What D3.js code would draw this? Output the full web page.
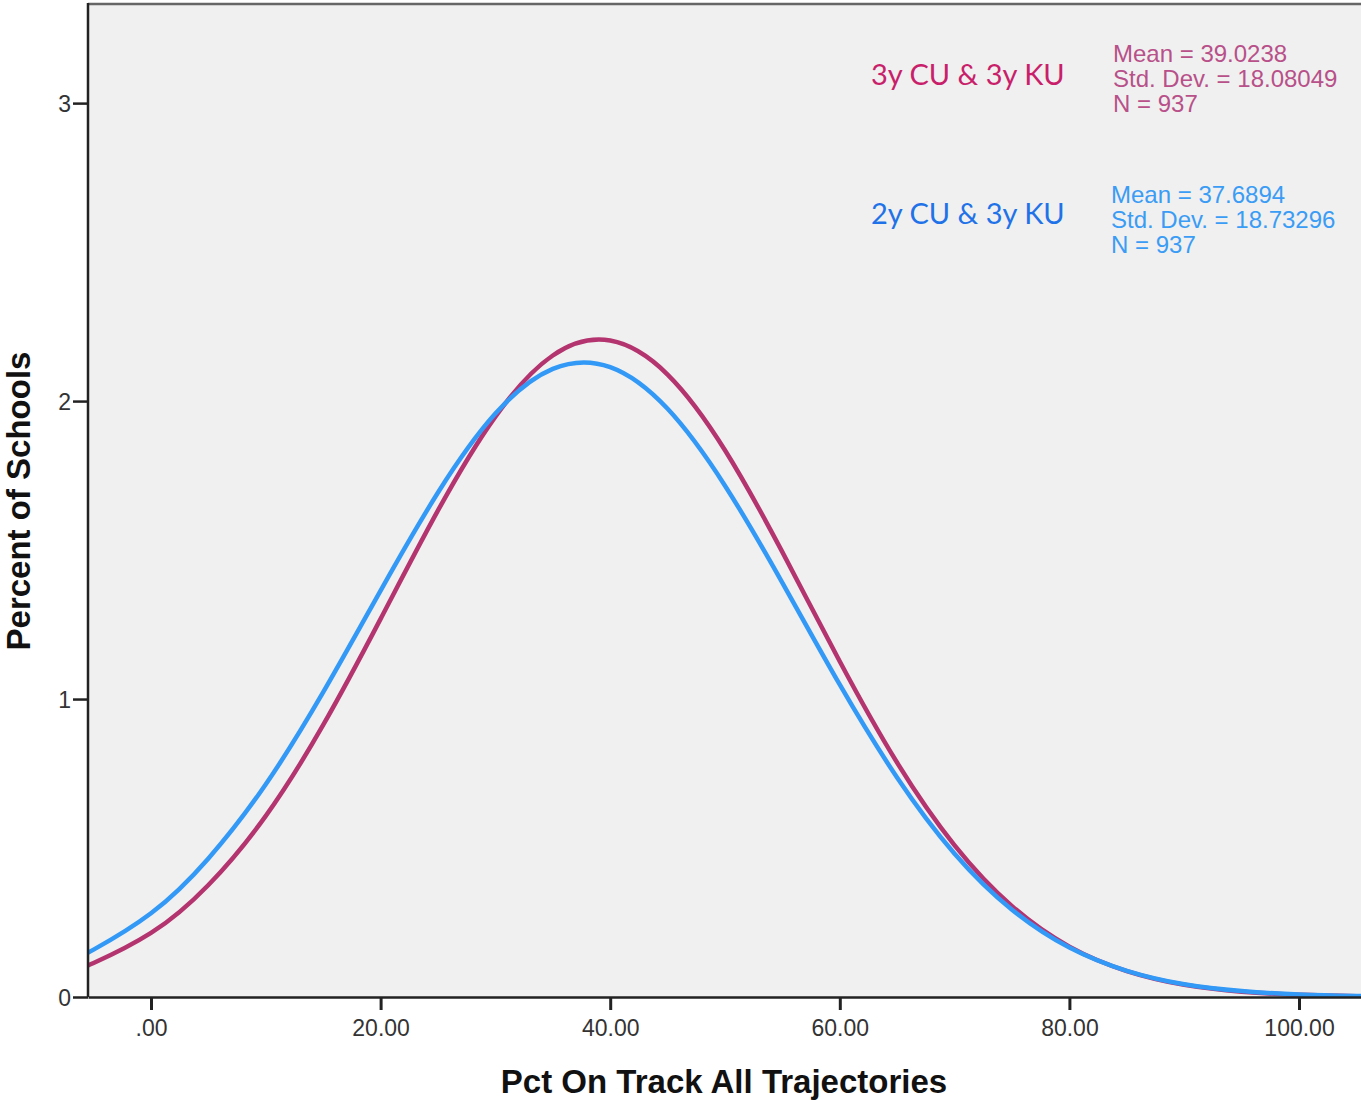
<!DOCTYPE html>
<html><head><meta charset="utf-8">
<script src="https://cdn.jsdelivr.net/npm/d3@7"></script>
<style>body{margin:0;background:#fff}svg{display:block}</style>
</head><body>
<svg id="c" width="1361" height="1100"></svg>
<script>
// x positions (Pct On Track) where curve heights were read
const xs = [-6,-5,0,5,10,15,20,25,30,35,40,45,50,55,60,65,70,75,80,85,90,95,100,105,106];
// 3y CU & 3y KU (percent of schools)
const seriesA = [0.099,0.114,0.215,0.376,0.608,0.913,1.269,1.633,1.948,2.153,2.203,2.089,1.835,1.493,1.126,0.786,0.509,0.305,0.169,0.087,0.041,0.018,0.0075,0.0028,0.0023];
// 2y CU & 3y KU
const seriesB = [0.140,0.159,0.281,0.465,0.714,1.023,1.364,1.693,1.958,2.108,2.114,1.974,1.716,1.390,1.048,0.736,0.481,0.293,0.166,0.088,0.043,0.020,0.0084,0.0034,0.0028];
const seriesNames = ["3y CU & 3y KU","2y CU & 3y KU"];
const statsA = ["Mean = 39.0238","Std. Dev. = 18.08049","N = 937"];
const statsB = ["Mean = 37.6894","Std. Dev. = 18.73296","N = 937"];
const xTicks = [0,20,40,60,80,100];
const xTickLabels = [".00","20.00","40.00","60.00","80.00","100.00"];
const yTicks = [0,1,2,3];
const xTitle = "Pct On Track All Trajectories";
const yTitle = "Percent of Schools";

const svg = d3.select("#c");
const L=88, R=1361, T=3, B=997;
const x = d3.scaleLinear().domain([-5.488,105.4]).range([L,R]);
const y = d3.scaleLinear().domain([0,3.336]).range([B,T]);

svg.append("rect").attr("x",L).attr("y",T).attr("width",R-L).attr("height",B-T).attr("fill","#f0f0f0");
svg.append("line").attr("x1",L).attr("x2",R).attr("y1",T+1).attr("y2",T+1).attr("stroke","#666").attr("stroke-width",2.5);

svg.append("clipPath").attr("id","pc").append("rect").attr("x",L).attr("y",T).attr("width",R-L).attr("height",B-T);
const line = d3.line().x((d,i)=>x(xs[i])).y(d=>y(d)).curve(d3.curveNatural);
const g = svg.append("g").attr("clip-path","url(#pc)");
g.append("path").datum(seriesA).attr("d",line).attr("fill","none").attr("stroke","#b3346f").attr("stroke-width",4.5);
g.append("path").datum(seriesB).attr("d",line).attr("fill","none").attr("stroke","#3399f7").attr("stroke-width",4.5);

const FONT = "Liberation Sans, Arial, sans-serif";
// axes
const xAxis = d3.axisBottom(x).tickValues(xTicks).tickFormat((d,i)=>xTickLabels[i]).tickSize(13).tickSizeOuter(0);
const gx = svg.append("g").attr("transform",`translate(0,${B})`).call(xAxis);
gx.select(".domain").attr("stroke","#222").attr("stroke-width",2.5);
gx.selectAll(".tick line").attr("stroke","#222").attr("stroke-width",3);
gx.selectAll(".tick text").attr("fill","#333").attr("font-family",FONT).attr("font-size",23).attr("y",39).attr("dy",0);

const yAxis = d3.axisLeft(y).tickValues(yTicks).tickFormat(d3.format("d")).tickSize(15).tickSizeOuter(0);
const gy = svg.append("g").attr("transform",`translate(${L},0)`).call(yAxis);
gy.select(".domain").attr("stroke","#222").attr("stroke-width",2.5).attr("d",`M0,${y(0)}V${T}`);
gy.selectAll(".tick line").attr("stroke","#222").attr("stroke-width",2.5);
gy.selectAll(".tick text").attr("fill","#333").attr("font-family",FONT).attr("font-size",23).attr("x",-17).attr("dy","0.36em");

svg.append("text").attr("x",724).attr("y",1093).attr("text-anchor","middle")
  .attr("font-family",FONT).attr("font-weight","bold").attr("font-size",33).attr("fill","#111").text(xTitle);
svg.append("text").attr("transform","translate(30,501) rotate(-90)").attr("text-anchor","middle")
  .attr("font-family",FONT).attr("font-weight","bold").attr("font-size",33).attr("fill","#111").text(yTitle);

// legend
const leg = [
  {name:seriesNames[0], stats:statsA, nameColor:"#c91f6b", statColor:"#b8508a", ny:85, sx:1113, sy:62},
  {name:seriesNames[1], stats:statsB, nameColor:"#1f72e8", statColor:"#3a9cf5", ny:224, sx:1111, sy:203}
];
leg.forEach(l=>{
  svg.append("text").attr("x",871).attr("y",l.ny).attr("font-family","Lato, Open Sans, sans-serif").attr("font-size",29)
    .attr("fill",l.nameColor).text(l.name);
  l.stats.forEach((s,i)=>{
    svg.append("text").attr("x",l.sx).attr("y",l.sy+i*25).attr("font-family",FONT)
      .attr("font-size",24).attr("fill",l.statColor).text(s);
  });
});
</script>
</body></html>
